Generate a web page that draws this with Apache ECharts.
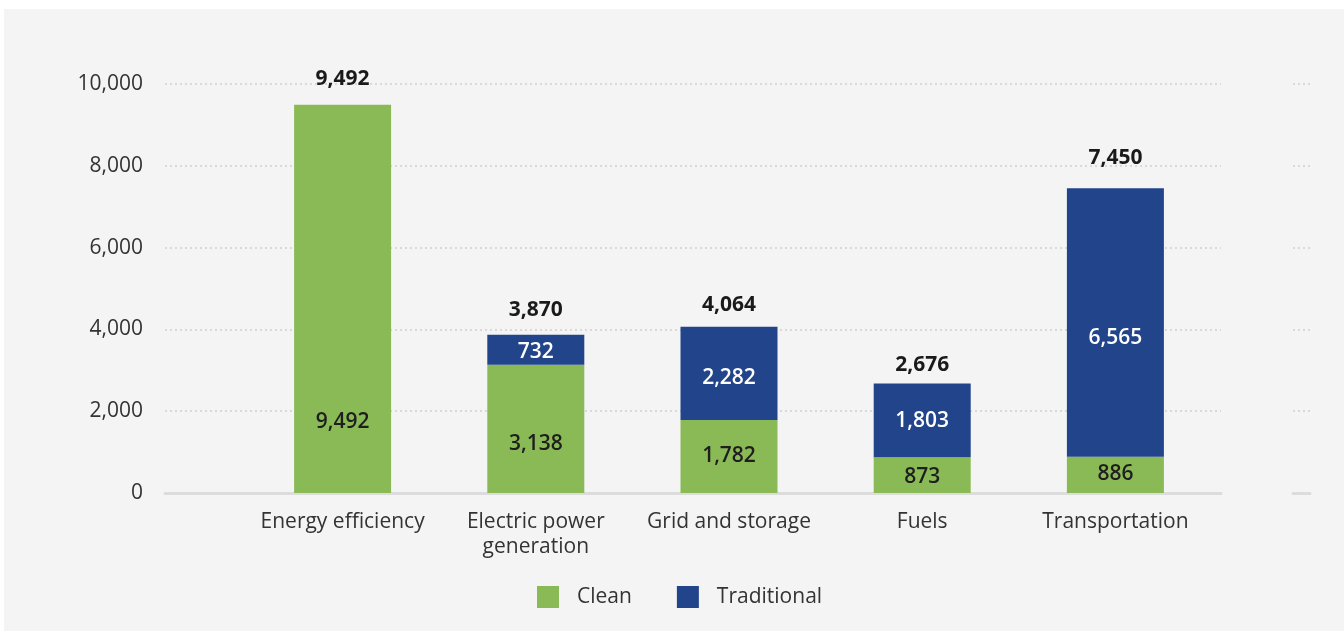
<!DOCTYPE html>
<html>
<head>
<meta charset="utf-8">
<script src="https://cdn.jsdelivr.net/npm/echarts@6/dist/echarts.min.js"></script>
<style>
html,body{margin:0;padding:0;background:#ffffff;}
#chart{width:1344px;height:631px;}
</style>
</head>
<body>
<div id="chart"></div>
<script>
// ---- data ----
const categories = ['Energy efficiency', 'Electric power\ngeneration', 'Grid and storage', 'Fuels', 'Transportation'];
const cleanValues = [9492, 3138, 1782, 873, 886];
const traditionalValues = [null, 732, 2282, 1803, 6565];
const totalValues = [9492, 3870, 4064, 2676, 7450];
const yTicks = [0, 2000, 4000, 6000, 8000, 10000];

// ---- style (label placement tweaks, not data) ----
const cleanLabelLift = [60, 38, 26, 5, 8];
const tradLabelShift = [0, 2, 5, 1, 16];
const totalLabelGap = [15, 14, 11, 8, 20];

const FONT = '"Open Sans", "Noto Sans", sans-serif';
const GREEN = '#8aba55';
const BLUE = '#21448a';
const FS = 21;

const chart = echarts.init(document.getElementById('chart'), null, {renderer: 'canvas'});

const yMin = yTicks[0], yMax = yTicks[yTicks.length - 1], yInt = yTicks[1] - yTicks[0];

const baseY = (idx, showLabels) => ({
  type: 'value', gridIndex: idx, min: yMin, max: yMax, interval: yInt,
  axisLine: {show: false}, axisTick: {show: false},
  axisLabel: {show: showLabels, margin: 22, color: '#333', fontSize: FS, fontFamily: FONT,
    formatter: v => v.toLocaleString('en-US')},
  splitLine: {show: idx !== 2, lineStyle: {color: '#d9d9d9', type: [2, 3], width: 2}}
});
const lineX = idx => ({
  type: 'category', gridIndex: idx, data: ['a'],
  axisLine: {show: true, lineStyle: {color: '#dcdcdc', width: 3}},
  axisTick: {show: false}, axisLabel: {show: false}, splitLine: {show: false}
});

const cleanData = cleanValues.map((v, i) => ({
  value: v,
  label: {position: 'insideBottom', distance: cleanLabelLift[i]}
}));
const tradData = traditionalValues.map((v, i) => ({
  value: v,
  label: {offset: [0, tradLabelShift[i]]}
}));
const totalData = totalValues.map((v, i) => ({
  value: v,
  label: {distance: totalLabelGap[i]}
}));

const option = {
  backgroundColor: '#ffffff',
  animation: false,
  graphic: [{
    type: 'rect', z: -10, silent: true,
    shape: {x: 4, y: 9, width: 1340, height: 622},
    style: {fill: '#f4f4f4'}
  }],
  grid: [
    {left: 165, right: 123, top: 84, bottom: 138},
    {left: 1293, right: 34, top: 84, bottom: 138},
    {left: 246, right: 132, top: 84, bottom: 138}
  ],
  xAxis: [
    lineX(0), lineX(1),
    {
      type: 'category', gridIndex: 2, data: categories,
      axisLine: {show: false}, axisTick: {show: false},
      axisLabel: {margin: 17, color: '#333', fontSize: FS, fontFamily: FONT, lineHeight: 25, interval: 0}
    }
  ],
  yAxis: [baseY(0, true), baseY(1, false), baseY(2, false)],
  legend: {
    data: ['Clean', 'Traditional'],
    left: 537, top: 586, padding: 0,
    itemWidth: 22, itemHeight: 22, itemGap: 45,
    icon: 'rect',
    textStyle: {color: '#333', fontSize: FS, fontFamily: FONT, padding: [0, 0, 0, 13]}
  },
  series: [
    {
      name: 'Clean', type: 'bar', stack: 's', xAxisIndex: 2, yAxisIndex: 2,
      barWidth: 97, data: cleanData,
      itemStyle: {color: GREEN},
      label: {show: true, color: '#1e1e1e', fontSize: FS, fontWeight: 600, fontFamily: FONT,
        formatter: p => p.value.toLocaleString('en-US')}
    },
    {
      name: 'Traditional', type: 'bar', stack: 's', xAxisIndex: 2, yAxisIndex: 2,
      barWidth: 97, data: tradData,
      itemStyle: {color: BLUE},
      label: {show: true, position: 'inside', color: '#fff', fontSize: FS, fontWeight: 600, fontFamily: FONT,
        formatter: p => p.value == null ? '' : p.value.toLocaleString('en-US')}
    },
    {
      name: 'Total', type: 'scatter', xAxisIndex: 2, yAxisIndex: 2,
      symbolSize: 0, data: totalData, silent: true,
      itemStyle: {opacity: 1},
      label: {show: true, position: 'top', color: '#1a1a1a', fontSize: FS, fontWeight: 700, fontFamily: FONT,
        formatter: p => p.value.toLocaleString('en-US')}
    }
  ]
};
chart.setOption(option);
</script>
</body>
</html>
